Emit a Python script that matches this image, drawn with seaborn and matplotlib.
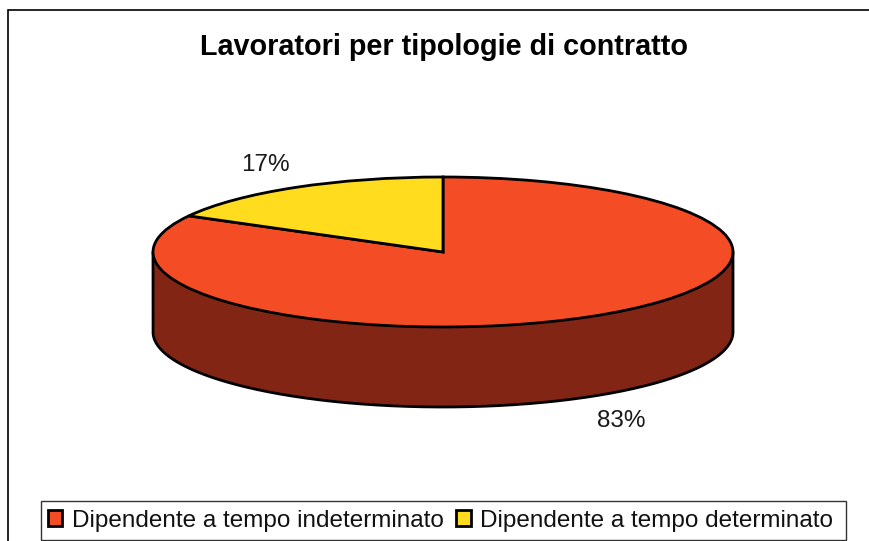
import numpy as np
import matplotlib
matplotlib.use("Agg")
import matplotlib.pyplot as plt
from matplotlib.patches import Rectangle, Patch
import seaborn as sns

# === Data ===
TITLE = "Lavoratori per tipologie di contratto"
categories = ["Dipendente a tempo indeterminato", "Dipendente a tempo determinato"]
values = [83, 17]
pct_labels = ["83%", "17%"]

# === Colours ===
ORANGE = "#F44C25"
YELLOW = "#FFDC1E"
WALL = "#832515"

W, H = 869, 541
CX, CY = 443, 252  # pie centre in pixels
RX, RY = 290, 75   # ellipse radii in pixels
DEPTH = 80 / RY    # wall height in pie units
LW = 2.0

sns.set_theme(style="white")
plt.rcParams["font.family"] = ["Liberation Sans", "DejaVu Sans"]

fig = plt.figure(figsize=(W / 100, H / 100), dpi=100)
ax = fig.add_axes([0, 0, 1, 1])
ax.axis("off")

# side wall of the pie, under the top face
t = np.linspace(np.pi, 2 * np.pi, 300)
xs = np.cos(t)
ys = np.sin(t)
ax.fill_between(xs, ys, ys - DEPTH, color=WALL, lw=0, zorder=1)
# wall outline as one line so the corners join cleanly
ax.plot(np.r_[-1, xs, 1], np.r_[0, ys - DEPTH, 0], color="black", lw=LW, zorder=2)

# top face
wedges, _ = ax.pie(
    values,
    colors=[ORANGE, YELLOW],
    startangle=90,
    counterclock=False,
    radius=1,
    wedgeprops={"edgecolor": "black", "linewidth": LW, "zorder": 3},
)

# pie() forces equal aspect, the squash comes from these limits
ax.set_aspect("auto")
ax.set_xlim(-CX / RX, (W - CX) / RX)
ax.set_ylim((CY - H) / RY, CY / RY)

ax.text((621 - CX) / RX, (CY - 421) / RY, pct_labels[0], fontsize=17.5,
        color="#1a1a1a", ha="center", va="center")
ax.text((265 - CX) / RX, (CY - 165) / RY, pct_labels[1], fontsize=17.5,
        color="#1a1a1a", ha="center", va="center")

fig.text(444.5 / W, 1 - 47 / H, TITLE, fontsize=20.7, fontweight="bold",
         color="black", ha="center", va="center")

# outer chart frame, runs off the right and bottom edges
fig.add_artist(Rectangle((8 / W, -0.05), 1.1, 1.05 - 10 / H, transform=fig.transFigure,
                         fill=False, edgecolor="black", lw=1.2))

# legend box, wider on the right than the entries need
fig.add_artist(Rectangle((41 / W, 1 - 540 / H), 805 / W, 39 / H, transform=fig.transFigure,
                         facecolor="white", edgecolor="#333333", lw=1))

handles = [Patch(facecolor=ORANGE, edgecolor="black", lw=LW),
           Patch(facecolor=YELLOW, edgecolor="black", lw=LW)]
leg = fig.legend(
    handles, categories,
    ncol=2,
    loc="center",
    bbox_to_anchor=(440.5 / W, 1 - 520.5 / H),
    fontsize=17.5,
    frameon=False,
    handlelength=0.6,
    handleheight=0.6,
    handletextpad=0.4,
    columnspacing=0.5,
    borderpad=0.45,
    borderaxespad=0,
    labelcolor="#111111",
)

fig.savefig("out.png", dpi=100)
